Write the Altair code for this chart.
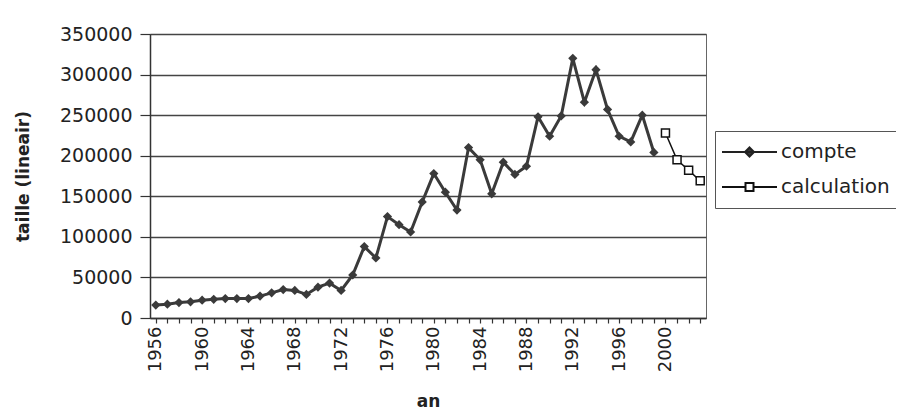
import altair as alt
import pandas as pd

# ---- data ----
years_compte = [1956, 1957, 1958, 1959, 1960, 1961, 1962, 1963, 1964, 1965,
                1966, 1967, 1968, 1969, 1970, 1971, 1972, 1973, 1974, 1975,
                1976, 1977, 1978, 1979, 1980, 1981, 1982, 1983, 1984, 1985,
                1986, 1987, 1988, 1989, 1990, 1991, 1992, 1993, 1994, 1995,
                1996, 1997, 1998, 1999]
compte = [16000, 17000, 19000, 20000, 22000, 23000, 24000, 24000, 24000, 27000,
          31000, 35000, 34000, 29000, 38000, 43000, 34000, 53000, 88000, 74000,
          125000, 115000, 106000, 143000, 178000, 155000, 133000, 210000, 195000, 153000,
          192000, 177000, 187000, 248000, 224000, 249000, 320000, 266000, 306000, 257000,
          224000, 217000, 250000, 204000]
years_calc = [2000, 2001, 2002, 2003]
calculation = [228000, 195000, 182000, 169000]
series_names = ["compte", "calculation"]
tick_years = list(range(1956, 2004))
y_ticks = [0, 50000, 100000, 150000, 200000, 250000, 300000, 350000]

df_compte = pd.DataFrame({"year": years_compte, "value": compte})
df_calc = pd.DataFrame({"year": years_calc, "value": calculation})
df_leg = pd.DataFrame({"serie": series_names, "year": [1956, 1956], "value": [-50000, -50000]})

FONT = "DejaVu Sans"
DARK = "#3a3a3a"

x = alt.X(
    "year:Q",
    scale=alt.Scale(domain=[1955.5, 2003.5], nice=False, zero=False),
    axis=alt.Axis(
        values=tick_years,
        labelExpr="datum.value % 4 == 0 ? toString(datum.value) : ''",
        labelAngle=270, labelAlign="right", labelBaseline="middle",
        labelOverlap=False, labelFlush=False, labelFontSize=18,
        tickSize=5, labelPadding=3, grid=False,
        title="an", titlePadding=22,
    ),
)
y = alt.Y(
    "value:Q",
    scale=alt.Scale(domain=[0, 350000], nice=False),
    axis=alt.Axis(
        values=y_ticks, format="d", tickSize=10, labelPadding=8, labelFontSize=19,
        grid=True, gridColor="#444", gridWidth=1.5,
        title="taille (lineair)", titlePadding=27,
    ),
)

line_c = alt.Chart(df_compte).mark_line(color=DARK, strokeWidth=3).encode(x=x, y=y)
pts_c = alt.Chart(df_compte).mark_point(
    shape="diamond", filled=True, color=DARK, size=85, opacity=1
).encode(x=x, y=y)
line_k = alt.Chart(df_calc).mark_line(color="#111", strokeWidth=1.5).encode(x=x, y=y)
pts_k = alt.Chart(df_calc).mark_point(
    shape="square", filled=True, fill="white", stroke="#111", strokeWidth=1.5,
    size=64, opacity=1
).encode(x=x, y=y)

# legend glyphs: line with marker (unit = 5 px at size 100)
path_compte = "M-2.8,0H8.2M2.7,-0.9L3.6,0L2.7,0.9L1.8,0Z"
path_calc = "M-2.8,0H1.9M3.5,0H8.2M1.9,-0.8H3.5V0.8H1.9Z"
leg = alt.Legend(
    title=None, orient="none", legendX=565, legendY=97,
    symbolSize=100, symbolStrokeColor="#222", symbolStrokeWidth=2,
    symbolOpacity=1, labelFontSize=20, labelFont=FONT, labelColor="#222",
    strokeColor="#555", padding=11, fillColor="white", rowPadding=15,
    labelOffset=35,
)
carrier = alt.Chart(df_leg).mark_point(
    filled=False, clip=True, size=100, color="#222", strokeWidth=2, opacity=1
).encode(
    x=x, y=y,
    shape=alt.Shape("serie:N", scale=alt.Scale(domain=series_names, range=[path_compte, path_calc]), legend=leg),
    fill=alt.Fill("serie:N", scale=alt.Scale(domain=series_names, range=[DARK, "white"]), legend=leg),
    stroke=alt.Stroke("serie:N", scale=alt.Scale(domain=series_names, range=["#222", "#111"]), legend=leg),
)

chart = alt.layer(line_c, pts_c, line_k, pts_k, carrier).properties(
    width=556, height=284,
    autosize=alt.AutoSizeParams(type="none"),
    padding={"left": 142, "top": 26, "right": 190, "bottom": 100},
    background="white",
).configure_axis(
    labelFont=FONT, labelColor="#222",
    titleFont=FONT, titleFontSize=17, titleFontWeight="bold", titleColor="#222",
    domainColor="#333", domainWidth=1.5, tickColor="#333", tickWidth=1.2,
).configure_view(stroke="#666", strokeWidth=1)

chart.save("out.html", embed_options={"renderer": "svg", "actions": False})
